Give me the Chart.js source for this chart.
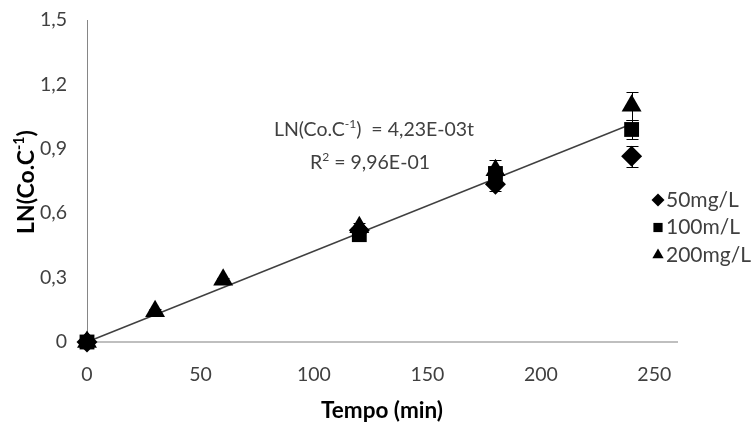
<!DOCTYPE html>
<html>
<head>
<meta charset="utf-8">
<script src="https://cdn.jsdelivr.net/npm/chart.js@4.4.0/dist/chart.umd.min.js"></script>
<style>
  html, body { margin: 0; padding: 0; background: #fff; }
  #wrap { width: 755px; height: 424px; position: relative; }
</style>
</head>
<body>
<div id="wrap"><canvas id="kinetics"></canvas></div>
<script>
const FONT = 'Lato, "Open Sans", sans-serif';

// sampling times (min)
const times50 = [0, 120, 180, 240];
const times100 = [0, 120, 180, 240];
const times200 = [0, 30, 60, 120, 180, 240];

// LN(Co/C) means and standard deviations per initial concentration
const ln50 = [0, 0.52, 0.735, 0.865];
const err50 = [0, 0.02, 0.03, 0.05];
const ln100 = [0, 0.50, 0.785, 0.99];
const err100 = [0, 0.02, 0.03, 0.046];
const ln200 = [0, 0.143, 0.29, 0.535, 0.80, 1.10];
const err200 = [0, 0.01, 0.01, 0.02, 0.05, 0.065];

const seriesLabels = ['50mg/L', '100m/L', '200mg/L'];
const pointStyles = ['rectRot', 'rect', 'triangle'];

// first order fit forced through the origin
const slope = 4.23e-3;
const r2 = 0.996;
const fitTimes = [0, 240];

const xTicks = [0, 50, 100, 150, 200, 250];
const yTicks = [0, 0.3, 0.6, 0.9, 1.2, 1.5];
const yTickLabels = ['0', '0,3', '0,6', '0,9', '1,2', '1,5'];

const TEXT = '#404040';

// Excel style scientific notation: 4,23E-03
function sci(v) {
  const [m, e] = v.toExponential(2).split('e');
  const n = parseInt(e, 10);
  return m.replace('.', ',') + 'E' + (n < 0 ? '-' : '+') + String(Math.abs(n)).padStart(2, '0');
}

const toPoints = (xs, ys) => xs.map((x, i) => ({ x: x, y: ys[i] }));

function drawRuns(ctx, runs, cx, cy, size, weight, color) {
  let total = 0;
  runs.forEach(r => {
    ctx.font = weight + ' ' + (r.sup ? size * 0.62 : size) + 'px ' + FONT;
    r.w = ctx.measureText(r.t).width;
    total += r.w;
  });
  let px = cx - total / 2;
  ctx.fillStyle = color;
  ctx.textAlign = 'left';
  ctx.textBaseline = 'middle';
  runs.forEach(r => {
    ctx.font = weight + ' ' + (r.sup ? size * 0.62 : size) + 'px ' + FONT;
    ctx.fillText(r.t, px, r.sup ? cy - size * 0.32 : cy);
    px += r.w;
  });
}

const errorBars = {
  id: 'errorBars',
  beforeDatasetsDraw(chart) {
    const { ctx, scales: { x, y } } = chart;
    ctx.save();
    ctx.strokeStyle = '#000';
    ctx.lineWidth = 1;
    chart.data.datasets.forEach(ds => {
      if (!ds.errors) return;
      ds.data.forEach((p, i) => {
        const e = ds.errors[i];
        if (!e) return;
        const px = Math.round(x.getPixelForValue(p.x)) + 0.5;
        const top = Math.round(y.getPixelForValue(p.y + e)) + 0.5;
        const bot = Math.round(y.getPixelForValue(p.y - e)) + 0.5;
        ctx.beginPath();
        ctx.moveTo(px, top); ctx.lineTo(px, bot);
        ctx.moveTo(px - 6, top); ctx.lineTo(px + 6, top);
        ctx.moveTo(px - 6, bot); ctx.lineTo(px + 6, bot);
        ctx.stroke();
      });
    });
    ctx.restore();
  }
};

// legend, equation and y title
const annotations = {
  id: 'annotations',
  afterDraw(chart) {
    const ctx = chart.ctx;
    ctx.save();

    seriesLabels.forEach((label, i) => {
      const ly = 200 + i * 27.5;
      ctx.fillStyle = '#000';
      Chart.helpers.drawPoint(ctx, { pointStyle: pointStyles[i], rotation: 0, radius: 6.5, borderWidth: 0 }, 658, ly);
      ctx.font = '21px ' + FONT;
      ctx.fillStyle = TEXT;
      ctx.textAlign = 'left';
      ctx.textBaseline = 'middle';
      ctx.fillText(label, 666, ly);
    });

    drawRuns(ctx, [{ t: 'LN(Co.C' }, { t: '-1', sup: true }, { t: ')  = ' + sci(slope) + 't' }], 374, 130, 19.5, 'normal', TEXT);
    drawRuns(ctx, [{ t: 'R' }, { t: '2', sup: true }, { t: ' = ' + sci(r2) }], 370, 163, 19.5, 'normal', TEXT);

    ctx.translate(27, 182);
    ctx.rotate(-Math.PI / 2);
    drawRuns(ctx, [{ t: 'LN(Co.C' }, { t: '-1', sup: true }, { t: ')' }], 0, 0, 23, 'bold', '#000');
    ctx.restore();
  }
};

const markerSet = (label, style, radius, xs, ys, errs, order) => ({
  label: label,
  data: toPoints(xs, ys),
  errors: errs,
  pointStyle: style,
  pointRadius: radius,
  pointHoverRadius: radius,
  pointBackgroundColor: '#000',
  pointBorderWidth: 0,
  showLine: false,
  clip: false,
  order: order
});

new Chart(document.getElementById('kinetics'), {
  type: 'scatter',
  data: {
    datasets: [
      markerSet(seriesLabels[2], pointStyles[2], 11.5, times200, ln200, err200, 1),
      markerSet(seriesLabels[1], pointStyles[1], 10.5, times100, ln100, err100, 2),
      markerSet(seriesLabels[0], pointStyles[0], 10.5, times50, ln50, err50, 3),
      {
        label: 'fit',
        data: fitTimes.map(t => ({ x: t, y: slope * t })),
        showLine: true,
        borderColor: '#404040',
        borderWidth: 1.5,
        pointRadius: 0,
        clip: false,
        order: 4
      }
    ]
  },
  options: {
    responsive: true,
    maintainAspectRatio: false,
    animation: false,
    layout: { autoPadding: false, padding: { top: 20, right: 78, left: 0, bottom: 0 } },
    plugins: {
      legend: { display: false },
      tooltip: { enabled: false }
    },
    scales: {
      x: {
        type: 'linear',
        min: 0,
        max: 260,
        grid: { display: false, drawTicks: false },
        border: { display: true, color: '#bfbfbf', width: 2 },
        afterBuildTicks: s => { s.ticks = xTicks.map(v => ({ value: v })); },
        afterFit: s => { s.height = 82; },
        ticks: {
          font: { family: FONT, size: 19.5 },
          color: TEXT,
          padding: 21
        },
        title: {
          display: true,
          text: 'Tempo (min)',
          font: { family: FONT, size: 22.5, weight: 'bold' },
          color: '#000',
          padding: { top: 0, bottom: 0 }
        }
      },
      y: {
        type: 'linear',
        min: 0,
        max: 1.5,
        grid: { display: false, drawTicks: false },
        border: { display: true, color: '#868686', width: 1 },
        afterBuildTicks: s => { s.ticks = yTicks.map(v => ({ value: v })); },
        afterFit: s => {
          s.width = 87;
          s.paddingTop = 0;
          s.paddingBottom = 0;
        },
        ticks: {
          font: { family: FONT, size: 19.5 },
          color: TEXT,
          padding: 20,
          callback: v => yTickLabels[yTicks.indexOf(v)]
        }
      }
    }
  },
  plugins: [errorBars, annotations]
});
</script>
</body>
</html>
